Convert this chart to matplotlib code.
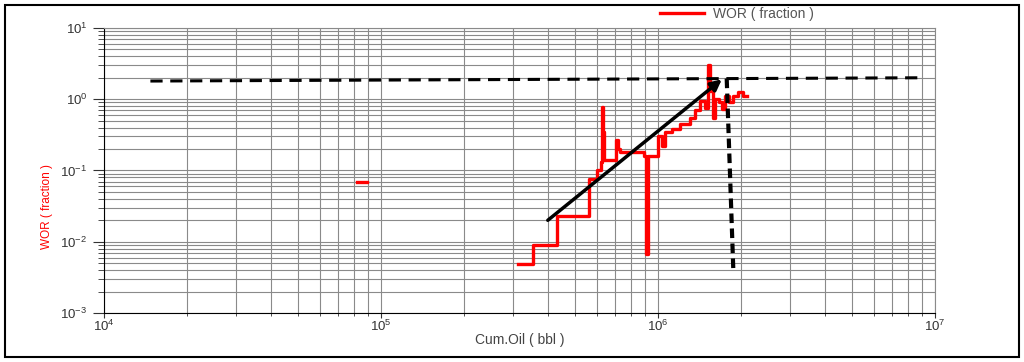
import matplotlib
matplotlib.use("Agg")
import matplotlib.pyplot as plt
import numpy as np
from matplotlib.patches import Rectangle

plt.rcParams["font.family"] = ["Liberation Sans", "DejaVu Sans"]
plt.rcParams["mathtext.fontset"] = "custom"
plt.rcParams["mathtext.rm"] = "Liberation Sans"
plt.rcParams["mathtext.it"] = "Liberation Sans"

# WOR step data (cum oil in bbl, WOR fraction)
cum_oil = [3.13e5, 3.54e5, 4.32e5, 5.63e5, 6.0e5, 6.2e5, 6.28e5, 6.33e5, 6.4e5,
           7.08e5, 7.16e5, 7.3e5, 8.9e5, 9.05e5, 9.22e5, 9.6e5, 1.0e6, 1.03e6,
           1.06e6, 1.12e6, 1.2e6, 1.3e6, 1.36e6, 1.42e6, 1.48e6, 1.52e6, 1.54e6,
           1.58e6, 1.61e6, 1.66e6, 1.7e6, 1.75e6, 1.8e6, 1.86e6, 1.95e6, 2.02e6, 2.1e6]
wor = [0.0048, 0.0089, 0.0228, 0.075, 0.10, 0.13, 0.77, 0.35, 0.14,
       0.27, 0.20, 0.18, 0.16, 0.0067, 0.16, 0.16, 0.30, 0.22,
       0.35, 0.38, 0.45, 0.55, 0.70, 0.95, 0.75, 3.0, 1.3,
       0.55, 1.0, 0.9, 0.72, 1.1, 0.9, 1.1, 1.25, 1.1, 1.1]

# isolated early point
cum_oil_early = [8.2e4, 8.9e4]
wor_early = [0.068, 0.068]

# trend arrow and dashed guide lines
arrow_start = (4.0e5, 0.02)
arrow_end = (1.7e6, 1.9)
hline_x = [1.47e4, 8.7e6]
hline_y = [1.8, 2.0]
vline_x = [1.77e6, 1.87e6]
vline_y = [1.95, 0.004]

fig = plt.figure(figsize=(10.24, 3.62), dpi=100)
ax = fig.add_axes([0.1016, 0.1354, 0.8115, 0.7873])

ax.set_xscale("log")
ax.set_yscale("log")
ax.set_xlim(1e4, 1e7)
ax.set_ylim(1e-3, 1e1)

ax.grid(True, which="both", color="#8a8a8a", linewidth=0.8)
ax.set_axisbelow(True)

ax.plot(cum_oil, wor, color="red", lw=2.4, drawstyle="steps-post",
        label="WOR ( fraction )")
ax.plot(cum_oil_early, wor_early, color="red", lw=2.4)

ax.plot(hline_x, hline_y, color="black", lw=2.2, dashes=(4, 2.5))
ax.plot(vline_x, vline_y, color="black", lw=3, dashes=(2.3, 1.3))

ax.annotate("", xy=arrow_end, xytext=arrow_start,
            arrowprops=dict(arrowstyle="-|>", color="black", lw=2.5,
                            mutation_scale=16, shrinkA=0, shrinkB=0))

ax.tick_params(which="both", labelsize=9.5, labelcolor="#333333", color="#333333",
               direction="out")
ax.tick_params(axis="x", which="major", length=3.5, pad=1)
ax.tick_params(axis="x", which="minor", length=2.5)
ax.tick_params(axis="y", which="major", length=8, pad=4)
ax.tick_params(axis="y", which="minor", length=4)
for s in ["top", "right"]:
    ax.spines[s].set_color("#8a8a8a")

ax.set_xlabel("Cum.Oil ( bbl )", fontsize=10, color="#444444")
ax.xaxis.set_label_coords(0.5, -0.07)
ax.set_ylabel("WOR ( fraction )", fontsize=8.5, color="red")
ax.yaxis.set_label_coords(-0.062, 0.372)

ax.legend(loc="center left", bbox_to_anchor=(0.669, 1.05), frameon=False,
          fontsize=10, handlelength=3.2, handletextpad=0.65, borderpad=0,
          borderaxespad=0, labelcolor="#555555")

fig.patches.append(Rectangle((5 / 1024, 5 / 362), 1014 / 1024, 352 / 362,
                             transform=fig.transFigure, fill=False,
                             edgecolor="black", lw=1.5))

fig.savefig("out.png", dpi=100)
